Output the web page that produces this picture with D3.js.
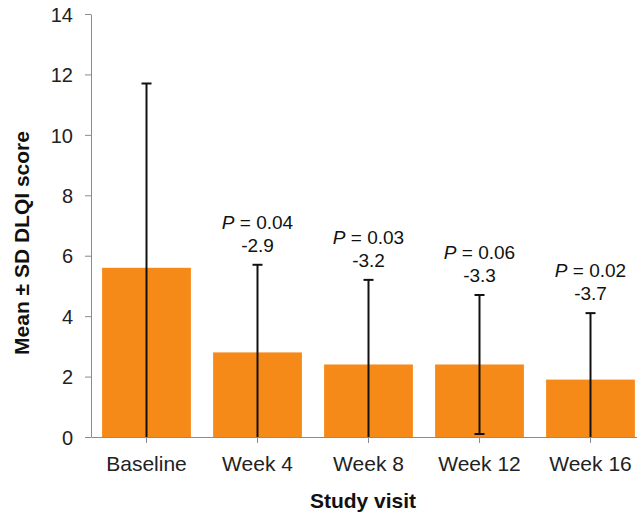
<!DOCTYPE html>
<html><head><meta charset="utf-8">
<script src="https://cdn.jsdelivr.net/npm/d3@7"></script>
<style>body{margin:0;background:#fff}svg{display:block}text{font-family:"Liberation Sans",Arial,sans-serif}</style>
</head><body>
<svg id="c" width="637" height="518"></svg>
<script>
const categories = ["Baseline","Week 4","Week 8","Week 12","Week 16"];
const means = [5.6, 2.8, 2.4, 2.4, 1.9];
const sds = [6.1, 2.9, 2.8, 2.3, 2.2];
const pLabels = [null, "0.04", "0.03", "0.06", "0.02"];
const changes = [null, "-2.9", "-3.2", "-3.3", "-3.7"];
const yTicks = [0,2,4,6,8,10,12,14];

const svg = d3.select("#c");
const x = d3.scaleBand().domain(categories).range([91, 646]).paddingInner(0.2).paddingOuter(0.1);
const y = d3.scaleLinear().domain([0, 14]).range([437, 14]);
const axisColor = "#8c8c8c";
const ff = "'Liberation Sans',Arial,sans-serif";

// y axis
const ya = svg.append("g").attr("transform","translate(91,0)")
  .call(d3.axisLeft(y).tickValues(yTicks).tickSize(6).tickSizeOuter(0));
ya.select(".domain").attr("stroke",axisColor);
ya.selectAll(".tick line").attr("stroke",axisColor);
ya.selectAll(".tick text").attr("font-size",20).attr("fill","#222").attr("x",-18).attr("dy","0.36em")
  .style("font-family",ff);

// bars
svg.selectAll("rect.bar").data(categories).join("rect").attr("class","bar")
  .attr("x", d=>x(d)).attr("width", x.bandwidth())
  .attr("y", (d,i)=>y(means[i])).attr("height",(d,i)=>y(0)-y(means[i]))
  .attr("fill","#F58A19");

// x axis
const xa = svg.append("g").attr("transform","translate(0,437)")
  .call(d3.axisBottom(x).tickSize(6).tickSizeOuter(0));
xa.select(".domain").attr("stroke",axisColor);
xa.selectAll(".tick line").attr("stroke",axisColor);
xa.selectAll(".tick text").attr("font-size",21).attr("fill","#222").attr("y",34).attr("dy",0)
  .style("font-family",ff);

// error bars
const cap = 5;
categories.forEach((c,i)=>{
  const cx = x(c) + x.bandwidth()/2;
  const hi = means[i] + sds[i];
  const loRaw = means[i] - sds[i];
  const lo = Math.max(0, loRaw);
  const g = svg.append("g").attr("stroke","#111").attr("stroke-width",2);
  g.append("line").attr("x1",cx).attr("x2",cx).attr("y1",y(hi)).attr("y2",y(lo));
  g.append("line").attr("x1",cx-cap).attr("x2",cx+cap).attr("y1",y(hi)).attr("y2",y(hi));
  if (loRaw > 0) g.append("line").attr("x1",cx-cap).attr("x2",cx+cap).attr("y1",y(lo)).attr("y2",y(lo));
  if (pLabels[i]) {
    const t = svg.append("text").attr("x",cx).attr("y",y(hi)-36).attr("text-anchor","middle")
      .attr("font-size",19).attr("fill","#111");
    t.append("tspan").attr("font-style","italic").text("P");
    t.append("tspan").text(" = " + pLabels[i]);
    svg.append("text").attr("x",cx).attr("y",y(hi)-13).attr("text-anchor","middle")
      .attr("font-size",19).attr("fill","#111").text(changes[i]);
  }
});

// axis titles
svg.append("text").attr("x",363).attr("y",508).attr("text-anchor","middle")
  .attr("font-size",21).attr("font-weight","bold").attr("fill","#111").text("Study visit");
svg.append("text").attr("transform","translate(29,243) rotate(-90)").attr("text-anchor","middle")
  .attr("font-size",21).attr("font-weight","bold").attr("fill","#111").text("Mean ± SD DLQI score");
</script>
</body></html>
